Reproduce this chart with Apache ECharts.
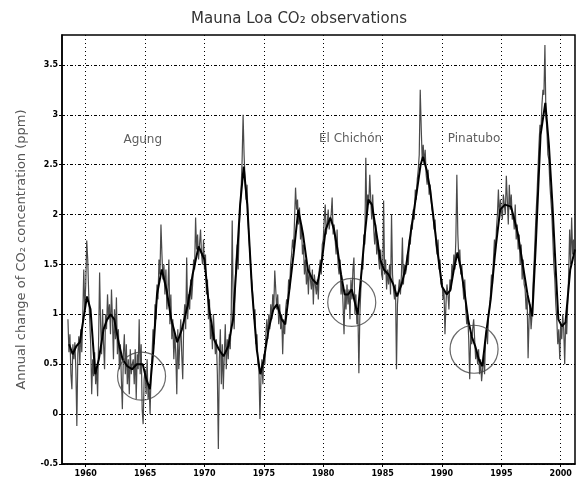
<!DOCTYPE html>
<html>
<head>
<meta charset="utf-8">
<script src="https://cdn.jsdelivr.net/npm/echarts@6/dist/echarts.min.js"></script>
<style>
  html, body { margin: 0; padding: 0; background: #fff; }
  #chart { width: 577px; height: 483px; }
</style>
</head>
<body>
<div id="chart"></div>
<script>
// x ticks / y ticks
const yearTicks = [1960, 1965, 1970, 1975, 1980, 1985, 1990, 1995, 2000];
const valueTicks = [-0.5, 0, 0.5, 1, 1.5, 2, 2.5, 3, 3.5];

// monthly values, first one is July 1958
const noisyStart = 1958.5;
const noisyValues = [
  0.95, 0.62, 0.80, 0.40, 0.25, 0.70,                                  // 1958 (Jul-Dec)
  0.55, 0.72, 0.45, -0.12, 0.60, 0.78, 0.50, 0.85, 0.62, 0.98, 1.45, 1.05, // 1959
  1.30, 1.74, 1.55, 1.20, 0.95, 0.70, 0.20, 0.55, 0.38, 0.62, 0.30, 0.48, // 1960
  0.18, 0.75, 1.42, 0.90, 0.60, 1.05, 0.70, 0.45, 1.00, 0.85, 1.20, 0.95, // 1961
  1.10, 0.80, 1.25, 0.95, 0.55, 1.05, 0.75, 1.17, 0.60, 0.85, 0.45, 0.70, // 1962
  0.35, 0.05, 0.60, 0.80, 0.40, 0.70, 0.30, 0.55, 0.20, 0.65, 0.40, 0.50, // 1963
  0.55, 0.30, 0.65, 0.15, 0.60, 0.45, 0.95, 0.40, 0.70, 0.05, -0.10, 0.35, // 1964
  0.45, 0.20, 0.55, 0.15, 0.30, 0.00, 0.40, 0.60, 0.85, 0.70, 1.10, 0.95, // 1965
  1.30, 1.15, 1.55, 1.40, 1.90, 1.60, 1.35, 1.50, 1.20, 1.45, 1.05, 1.25, // 1966
  1.55, 0.90, 1.20, 0.75, 0.95, 0.55, 0.80, 0.60, 0.20, 0.85, 0.45, 0.70, // 1967
  0.95, 0.60, 0.35, 0.90, 1.10, 0.85, 1.57, 0.95, 1.20, 1.05, 1.35, 1.15, // 1968
  1.30, 1.55, 1.45, 1.97, 1.65, 1.80, 1.55, 1.70, 1.85, 1.60, 1.50, 1.75, // 1969
  1.45, 1.60, 1.20, 1.35, 0.95, 1.15, 0.75, 0.90, 0.65, 1.00, 0.80, 0.60, // 1970
  0.75, 0.40, -0.35, 0.55, 0.85, 0.30, 0.70, 0.25, 0.60, 0.90, 0.45, 0.75, // 1971
  0.55, 0.80, 0.65, 1.00, 1.94, 1.10, 0.85, 1.30, 1.55, 1.70, 1.45, 1.85, // 1972
  2.05, 2.25, 2.54, 3.00, 2.60, 2.35, 2.15, 2.30, 1.95, 1.75, 1.60, 1.40, // 1973
  1.30, 1.15, 0.95, 1.05, 0.70, 0.80, 0.50, 0.45, -0.05, 0.35, 0.55, 0.30, // 1974
  0.60, 0.50, 0.80, 0.95, 0.75, 1.00, 0.85, 1.10, 0.95, 1.20, 1.05, 1.44, // 1975
  1.25, 1.05, 1.20, 0.90, 1.10, 0.85, 1.00, 0.60, 0.95, 0.80, 1.05, 1.15, // 1976
  1.10, 1.35, 1.25, 1.50, 1.60, 1.75, 1.65, 1.95, 2.27, 2.05, 2.15, 1.90, // 1977
  2.07, 1.75, 1.90, 1.60, 1.70, 1.40, 1.55, 1.30, 1.45, 1.20, 1.50, 1.35, // 1978
  1.25, 1.45, 1.10, 1.40, 1.30, 1.20, 1.35, 1.15, 1.45, 1.55, 1.40, 1.70, // 1979
  1.75, 1.95, 2.10, 1.80, 1.90, 2.05, 1.85, 1.95, 2.00, 2.17, 1.80, 1.90, // 1980
  1.75, 1.60, 1.85, 1.50, 1.40, 1.55, 1.20, 1.35, 1.10, 0.80, 1.25, 1.05, // 1981
  1.30, 1.10, 1.25, 0.95, 1.35, 1.15, 1.45, 1.57, 1.00, 1.20, 0.90, 1.05, // 1982
  0.41, 1.00, 1.25, 1.50, 1.45, 1.80, 1.70, 2.57, 2.00, 2.20, 2.10, 2.40, // 1983
  2.15, 1.95, 2.20, 1.85, 1.70, 1.90, 1.60, 1.75, 1.55, 1.45, 1.65, 1.40, // 1984
  1.35, 2.14, 1.40, 1.55, 1.25, 1.45, 1.30, 1.50, 1.20, 2.00, 1.40, 1.25, // 1985
  1.15, 1.30, 0.45, 1.10, 1.25, 1.35, 1.20, 1.40, 1.77, 1.30, 1.50, 1.40, // 1986
  1.45, 1.60, 1.50, 1.75, 1.70, 1.90, 1.85, 2.05, 1.95, 2.25, 2.15, 2.35, // 1987
  2.45, 2.60, 3.25, 2.87, 2.55, 2.70, 2.50, 2.65, 2.40, 2.30, 2.45, 2.20, // 1988
  2.30, 2.15, 2.05, 2.00, 1.85, 1.95, 1.70, 1.60, 1.75, 1.45, 1.55, 1.30, // 1989
  1.35, 1.15, 1.25, 0.80, 1.10, 1.30, 1.20, 1.05, 1.35, 1.25, 1.50, 1.40, // 1990
  1.60, 1.45, 1.75, 2.40, 1.80, 1.55, 1.65, 1.40, 1.50, 1.30, 1.15, 1.35, // 1991
  1.05, 0.90, 1.00, 0.75, 0.35, 0.80, 0.70, 0.85, 0.95, 0.75, 0.55, 0.65, // 1992
  0.50, 0.65, 0.40, 0.55, 0.33, 0.45, 0.60, 0.40, 0.75, 0.85, 0.70, 1.00, // 1993
  1.05, 1.20, 1.40, 1.30, 1.55, 1.75, 1.60, 1.85, 2.00, 2.25, 1.95, 2.15, // 1994
  2.05, 1.95, 2.20, 2.10, 2.00, 2.39, 2.15, 1.90, 2.30, 2.05, 2.20, 1.95, // 1995
  2.00, 1.85, 2.10, 1.75, 1.90, 1.65, 1.80, 1.50, 1.70, 1.35, 1.55, 1.30, // 1996
  1.25, 1.05, 1.20, 0.56, 0.95, 1.10, 0.85, 1.00, 1.30, 1.50, 1.75, 2.00, // 1997
  2.20, 2.45, 2.70, 2.90, 2.85, 3.10, 3.25, 3.20, 3.70, 3.00, 2.85, 2.60, // 1998
  2.55, 2.30, 2.15, 2.00, 1.75, 1.50, 1.35, 1.10, 0.95, 0.70, 0.85, 0.55, // 1999
  0.90, 0.75, 1.00, 0.85, 0.50, 0.95, 0.80, 1.10, 1.40, 1.85, 1.50, 1.97, // 2000
  1.60, 1.75, 1.55                                                     // 2001
];

// smoothed curve
const smoothYears = [
  1958.6, 1958.9, 1959.2, 1959.5, 1959.8, 1960.1, 1960.4, 1960.8, 1961.1, 1961.5,
  1961.8, 1962.1, 1962.4, 1962.8, 1963.1, 1963.5, 1963.9, 1964.3, 1964.8, 1965.1,
  1965.4, 1965.7, 1966.0, 1966.4, 1966.8, 1967.2, 1967.7, 1968.1, 1968.6, 1969.0,
  1969.5, 1970.0, 1970.4, 1970.8, 1971.2, 1971.6, 1972.0, 1972.4, 1972.7, 1973.0,
  1973.3, 1973.6, 1974.0, 1974.4, 1974.7, 1975.0, 1975.4, 1975.8, 1976.1, 1976.5,
  1976.8, 1977.1, 1977.5, 1977.9, 1978.3, 1978.7, 1979.1, 1979.5, 1979.9, 1980.2,
  1980.6, 1980.9, 1981.2, 1981.5, 1981.8, 1982.1, 1982.4, 1982.7, 1982.9, 1983.2,
  1983.5, 1983.8, 1984.1, 1984.5, 1984.8, 1985.1, 1985.5, 1985.9, 1986.2, 1986.6,
  1987.0, 1987.4, 1987.9, 1988.2, 1988.4, 1988.7, 1989.0, 1989.3, 1989.6, 1990.0,
  1990.4, 1990.7, 1991.0, 1991.3, 1991.6, 1991.9, 1992.2, 1992.5, 1992.8, 1993.1,
  1993.4, 1993.7, 1994.1, 1994.5, 1994.9, 1995.3, 1995.8, 1996.1, 1996.4, 1996.8,
  1997.2, 1997.6, 1997.9, 1998.3, 1998.7, 1999.0, 1999.3, 1999.6, 1999.8, 2000.1,
  2000.4, 2000.8, 2001.2
];
const smoothValues = [
  0.70, 0.60, 0.68, 0.72, 0.95, 1.18, 1.05, 0.40, 0.55, 0.85,
  0.95, 1.00, 0.95, 0.70, 0.55, 0.48, 0.45, 0.50, 0.50, 0.35,
  0.25, 0.65, 1.20, 1.45, 1.25, 0.95, 0.72, 0.85, 1.10, 1.40,
  1.68, 1.55, 1.05, 0.75, 0.65, 0.58, 0.68, 0.95, 1.50, 2.10,
  2.48, 2.10, 1.25, 0.65, 0.40, 0.55, 0.85, 1.05, 1.10, 0.95,
  0.90, 1.20, 1.60, 2.05, 1.80, 1.45, 1.35, 1.30, 1.55, 1.85,
  1.97, 1.85, 1.65, 1.40, 1.20, 1.20, 1.25, 1.10, 1.00, 1.40,
  1.80, 2.15, 2.10, 1.80, 1.55, 1.45, 1.40, 1.30, 1.18, 1.30,
  1.50, 1.85, 2.25, 2.50, 2.58, 2.45, 2.25, 1.95, 1.65, 1.28,
  1.20, 1.24, 1.45, 1.62, 1.45, 1.22, 0.95, 0.78, 0.68, 0.55,
  0.48, 0.80, 1.15, 1.65, 2.05, 2.10, 2.08, 1.95, 1.80, 1.50,
  1.20, 0.98, 1.70, 2.80, 3.12, 2.70, 2.10, 1.40, 0.95, 0.88,
  0.92, 1.45, 1.65
];

// volcano markers
const eventNames = ['Agung', 'El Chichón', 'Pinatubo'];
const circleYears = [1964.7, 1982.4, 1992.7];
const circleValues = [0.38, 1.12, 0.65];
const labelYears = [1964.8, 1982.3, 1992.7];
const labelValues = [2.75, 2.76, 2.76];

const chart = echarts.init(document.getElementById('chart'));

const noisyData = noisyValues.map((v, i) => [noisyStart + i / 12, v]);
const smoothData = smoothYears.map((y, i) => [y, smoothValues[i]]);

const fontFamily = 'DejaVu Sans, sans-serif';

let option = {
    animation: false,
    backgroundColor: '#fff',
    title: {
        text: 'Mauna Loa CO₂ observations',
        left: 294,
        textAlign: 'center',
        top: 7,
        textStyle: { fontFamily: fontFamily, fontSize: 15, fontWeight: 'normal', color: '#333' }
    },
    grid: { left: 62, right: 2, top: 35, bottom: 19, show: true, borderColor: '#000', borderWidth: 1.5 },
    xAxis: {
        type: 'value',
        min: 1958,
        max: 2001.2,
        axisLine: { show: true, onZero: false, lineStyle: { color: '#000', width: 1.5 } },
        axisTick: { show: true, length: 3, customValues: yearTicks, lineStyle: { color: '#000' } },
        axisLabel: {
            customValues: yearTicks,
            formatter: v => String(v),
            margin: 6,
            fontFamily: fontFamily, fontSize: 8, fontWeight: 'bold', color: '#000'
        },
        splitLine: { show: true, lineStyle: { color: '#000', type: [1, 3], width: 1 } }
    },
    yAxis: {
        type: 'value',
        min: -0.5,
        max: 3.8,
        name: 'Annual change of CO₂ concentration (ppm)',
        nameLocation: 'middle',
        nameRotate: 90,
        nameGap: 34,
        nameTextStyle: { fontFamily: fontFamily, fontSize: 13, color: '#555' },
        axisLine: { show: true, onZero: false, lineStyle: { color: '#000', width: 1.5 } },
        axisTick: { show: true, length: 3, customValues: valueTicks, lineStyle: { color: '#000' } },
        axisLabel: {
            customValues: valueTicks,
            formatter: v => String(v),
            margin: 4,
            fontFamily: fontFamily, fontSize: 8, fontWeight: 'bold', color: '#000'
        },
        splitLine: { show: true, lineStyle: { color: '#000', type: [3, 2, 1, 2], width: 1 } }
    },
    series: [
        {
            name: 'monthly',
            type: 'line',
            data: noisyData,
            showSymbol: false,
            silent: true,
            lineStyle: { color: '#4a4a4a', width: 1.2 },
            z: 2
        },
        {
            name: 'smoothed',
            type: 'line',
            data: smoothData,
            showSymbol: false,
            silent: true,
            lineStyle: { color: '#000', width: 2 },
            z: 3
        },
        {
            name: 'circles',
            type: 'scatter',
            data: circleYears.map((y, i) => [y, circleValues[i]]),
            symbol: 'circle',
            symbolSize: 48,
            silent: true,
            itemStyle: { color: 'rgba(0,0,0,0)', borderColor: '#444', borderWidth: 1.2 },
            z: 4
        },
        {
            name: 'labels',
            type: 'scatter',
            data: labelYears.map((y, i) => ({ value: [y, labelValues[i]], name: eventNames[i] })),
            symbolSize: 0,
            silent: true,
            label: {
                show: true,
                position: 'inside',
                formatter: '{b}',
                fontFamily: fontFamily,
                fontSize: 12,
                color: '#333'
            },
            z: 5
        }
    ]
};

chart.setOption(option);
</script>
</body>
</html>
